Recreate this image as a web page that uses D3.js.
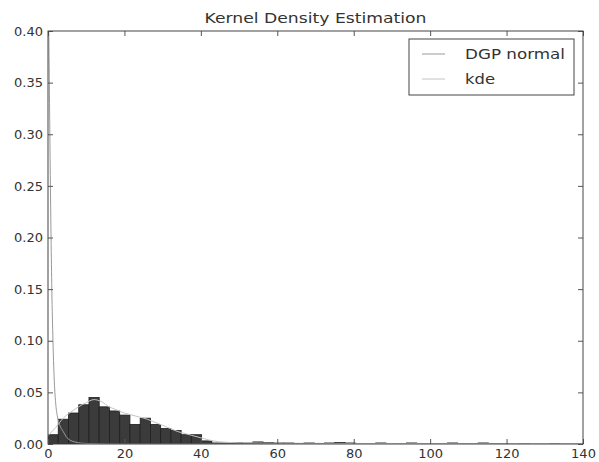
<!DOCTYPE html>
<html>
<head>
<meta charset="utf-8">
<script src="https://cdn.jsdelivr.net/npm/d3@7"></script>
<style>
    body { margin: 0; background: #fff; }
    text { font-family: 'DejaVu Sans', sans-serif; fill: #333; }
</style>
</head>
<body>
<div id="chart"></div>
<script>
// histogram: 50 bins of equal width starting at 0
const binWidth = 2.68;
const histDensity = [
    0.009, 0.024, 0.030, 0.038, 0.045, 0.036, 0.032, 0.028, 0.019, 0.025,
    0.019, 0.015, 0.013, 0.009, 0.009, 0.003, 0.001, 0.001, 0.0015, 0.001,
    0.002, 0.0015, 0.001, 0.001, 0.0005, 0.001, 0.0005, 0.001, 0.0015, 0.001,
    0.0005, 0.0005, 0.001, 0.0005, 0.0005, 0.001, 0.0005, 0.0005, 0.0005, 0.001,
    0.0005, 0.0005, 0.001, 0.0005, 0.0005, 0, 0.0005, 0, 0, 0.0005
];

// DGP normal curve (spike at the left edge)
const dgpX = [0, 0.2, 0.4, 0.6, 0.8, 1.0, 1.3, 1.6, 2.0, 2.5, 3.0, 4.0, 5.0, 7.0, 10, 20, 60, 140];
const dgpY = [0.45, 0.40, 0.33, 0.26, 0.20, 0.15, 0.10, 0.065, 0.040, 0.026, 0.019, 0.012, 0.006, 0.002, 0.0005, 0, 0, 0];

// kde curve following the histogram
const kdeX = [0, 2, 4, 6, 8, 10, 12, 14, 16, 18, 20, 22, 24, 26, 28, 30, 32, 34, 36, 38, 40, 42, 45, 50, 60, 80, 100, 120, 140];
const kdeY = [0.008, 0.016, 0.025, 0.031, 0.036, 0.040, 0.043, 0.041, 0.036, 0.033, 0.030, 0.028, 0.026, 0.024, 0.021, 0.018, 0.015, 0.012, 0.010, 0.008, 0.006, 0.004, 0.002, 0.0012, 0.0008, 0.0005, 0.0004, 0.0003, 0.0002];

const xTicks = [0, 20, 40, 60, 80, 100, 120, 140];
const yTicks = [0, 0.05, 0.10, 0.15, 0.20, 0.25, 0.30, 0.35, 0.40];
const legendLabels = ['DGP normal', 'kde'];
const lineColors = ['#999', '#c4c4c4'];

const margin = { top: 31, right: 16, bottom: 18, left: 48 };
const width = 599 - margin.left - margin.right;
const height = 462 - margin.top - margin.bottom;

const svg = d3.select('#chart').append('svg')
    .attr('width', 599)
    .attr('height', 462);

const g = svg.append('g')
    .attr('transform', `translate(${margin.left},${margin.top})`);

const x = d3.scaleLinear().domain([0, 140]).range([0, width]);
const y = d3.scaleLinear().domain([0, 0.40]).range([height, 0]);

g.append('clipPath').attr('id', 'plot-clip')
    .append('rect').attr('width', width).attr('height', height);

const plot = g.append('g').attr('clip-path', 'url(#plot-clip)');

// bars
plot.selectAll('rect.bar')
    .data(histDensity)
    .enter().append('rect')
    .attr('class', 'bar')
    .attr('x', (d, i) => x(i * binWidth))
    .attr('width', x(binWidth) - x(0))
    .attr('y', d => y(d))
    .attr('height', d => y(0) - y(d))
    .style('fill', '#3b3b3b')
    .style('stroke', '#1e1e1e')
    .style('stroke-width', 0.8);

const line = d3.line()
    .x(d => x(d[0]))
    .y(d => y(d[1]))
    .curve(d3.curveMonotoneX);

plot.append('path')
    .datum(dgpX.map((v, i) => [v, dgpY[i]]))
    .attr('d', line)
    .style('fill', 'none')
    .style('stroke', lineColors[0])
    .style('stroke-width', 1);

plot.append('path')
    .datum(kdeX.map((v, i) => [v, kdeY[i]]))
    .attr('d', line)
    .style('fill', 'none')
    .style('stroke', lineColors[1])
    .style('stroke-width', 1);

// axes, matplotlib classic look: ticks inside on all four sides
const tickLen = 5;
g.append('g')
    .attr('transform', `translate(0,${height})`)
    .call(d3.axisBottom(x).tickValues(xTicks).tickSize(-tickLen).tickPadding(5).tickFormat(d3.format('d')))
    .call(a => a.select('.domain').remove());
g.append('g')
    .call(d3.axisTop(x).tickValues(xTicks).tickSize(-tickLen).tickFormat(''))
    .call(a => a.select('.domain').remove());
g.append('g')
    .call(d3.axisLeft(y).tickValues(yTicks).tickSize(-tickLen).tickPadding(5).tickFormat(d3.format('.2f')))
    .call(a => a.select('.domain').remove());
g.append('g')
    .attr('transform', `translate(${width},0)`)
    .call(d3.axisRight(y).tickValues(yTicks).tickSize(-tickLen).tickFormat(''))
    .call(a => a.select('.domain').remove());

g.selectAll('.tick line').style('stroke', '#555');
g.selectAll('.tick text').style('font-size', '13px').style('fill', '#333');

g.append('rect')
    .attr('width', width)
    .attr('height', height)
    .style('fill', 'none')
    .style('stroke', '#444')
    .style('stroke-width', 1);

// title
svg.append('text')
    .attr('x', margin.left + width / 2)
    .attr('y', 23)
    .attr('text-anchor', 'middle')
    .attr('textLength', 222)
    .attr('lengthAdjust', 'spacingAndGlyphs')
    .style('font-size', '14px')
    .text('Kernel Density Estimation');

// legend
const legend = svg.append('g').attr('transform', 'translate(409,39)');
legend.append('rect')
    .attr('width', 165)
    .attr('height', 56)
    .style('fill', '#fff')
    .style('stroke', '#444')
    .style('stroke-width', 1);

legendLabels.forEach((label, i) => {
    const ly = 15 + i * 25;
    legend.append('line')
        .attr('x1', 13).attr('x2', 36)
        .attr('y1', ly).attr('y2', ly)
        .style('stroke', lineColors[i])
        .style('stroke-width', 1);
    legend.append('text')
        .attr('x', 56)
        .attr('y', ly + 5)
        .attr('textLength', i === 0 ? 100 : 30)
        .attr('lengthAdjust', 'spacingAndGlyphs')
        .style('font-size', '14px')
        .text(label);
});
</script>
</body>
</html>
